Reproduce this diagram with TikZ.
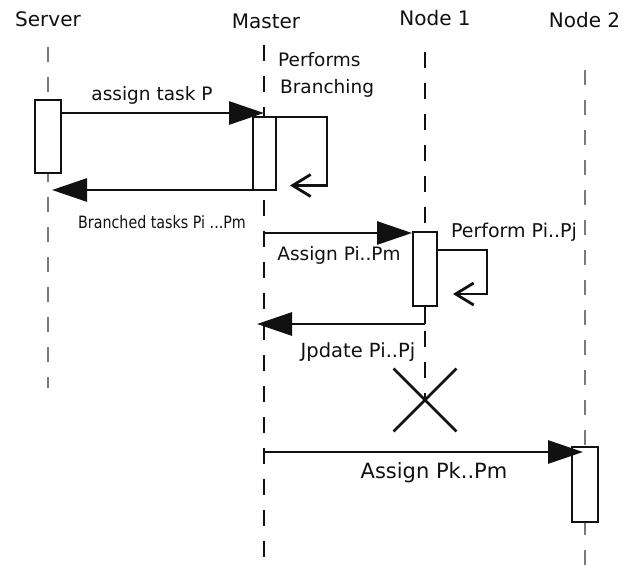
\documentclass[tikz,border=0pt]{standalone}
\usepackage{fontspec}
\setmainfont{DejaVu Sans}
\usetikzlibrary{arrows.meta,shapes.misc,calc}
\definecolor{ink}{HTML}{111111}
\definecolor{lifegray}{HTML}{7A7A7A}
\begin{document}
\begin{tikzpicture}[x=1pt,y=-1pt,
  title/.style={font=\fontsize{20}{24}\selectfont, text=ink, inner sep=0pt, anchor=base},
  lab/.style={font=\fontsize{18.5}{22}\selectfont, text=ink, inner sep=0pt, anchor=base},
  actbox/.style={draw=ink, fill=white, line width=2.8pt, inner sep=0pt, outer sep=0pt},
  msg/.style={draw=ink, line width=2.8pt, -{Triangle[length=35pt,width=23pt]}},
  selfmsg/.style={draw=ink, line width=2.8pt, line join=miter, -{Straight Barb[length=18pt,width=22pt]}},
  lifeg/.style={draw=lifegray, line width=2.2pt, dash pattern=on 15pt off 15pt},
  lifek/.style={draw=ink, line width=1.4pt, dash pattern=on 16pt off 15pt}]

% canvas
\fill[white] (0,0) rectangle (632,565);
\useasboundingbox (0,0) rectangle (632,565);

% participant titles
\node[title] (tserver) at (48,26)    {Server};
\node[title] (tmaster) at (266,28)   {Master};
\node[title] (tnode1)  at (435,25)   {Node 1};
\node[title] (tnode2)  at (584.5,27) {Node 2};

% lifeline heads
\coordinate (sl)  at (48,47);
\coordinate (ml)  at (264,45);
\coordinate (nl1) at (425,52);
\coordinate (nl2) at (585,70);

% destruction mark of Node 1
\node[cross out, draw=ink, line width=2.8pt, minimum size=60pt, inner sep=0pt] (n1end) at (425,400) {};

% lifelines
\draw[lifeg] (sl) -- (48,388);
\draw[lifek] (ml) -- (264,565);
\draw[lifek] (nl1) -- (n1end.center);
\draw[lifeg] (nl2) -- (585,565);

% activation boxes
\node[actbox, minimum width=26pt, minimum height=73pt] (sbox)  at (48,136.5)  {};
\node[actbox, minimum width=23pt, minimum height=73pt] (mbox)  at (264.5,153.5) {};
\node[actbox, minimum width=24pt, minimum height=74pt] (n1box) at (425,269)  {};
\node[actbox, minimum width=26pt, minimum height=75pt] (n2box) at (585,484.5) {};

% Server -> Master
\path ($(sbox.north east)+(0,13)$) coordinate (m1a);
\draw[msg] (m1a) -- (ml |- m1a);
\node[lab] (l1) at (152,100) {assign task P};

% Master branching (self call)
\draw[selfmsg] (mbox.north east) -- ++(51,0) |- ($(mbox.east)+(14,32)$);
\node[lab, anchor=base west] (l2a) at (278,66) {Performs};
\node[lab, anchor=base west] (l2b) at (280,93) {Branching};

% Master -> Server
\draw[msg] (mbox.south west) -- ($(sl |- mbox.south west)+(4,0)$);
\node[lab, font=\fontsize{17}{20}\selectfont, xscale=0.84] (l3) at (162,228) {Branched tasks Pi ...Pm};

% Master -> Node 1
\path ($(n1box.north west)+(-1,1)$) coordinate (m4b);
\draw[msg] (ml |- m4b) -- (m4b);
\node[lab] (l4) at (339,260) {Assign Pi..Pm};

% Node 1 self call
\draw[selfmsg] ($(n1box.east)+(0,-19)$) -- ++(50,0) |- ($(n1box.east)+(16,25)$);
\node[lab, font=\fontsize{19}{22}\selectfont] (l5) at (514,237) {Perform Pi..Pj};

% Node 1 -> Master
\path ($(n1box.south)+(0,18)$) coordinate (m6a);
\draw[ink, line width=1.5pt] (n1box.south) -- (m6a);
\draw[msg] (m6a) -- ($(ml |- m6a)+(-7,0)$);
\node[lab, font=\fontsize{19.5}{22}\selectfont] (l6) at (358,357) {Jpdate Pi..Pj};

% Master -> Node 2
\path ($(n2box.north west)+(0,5)$) coordinate (m7b);
\draw[msg] (ml |- m7b) -- ($(nl2 |- m7b)+(-2,0)$);
\node[lab, font=\fontsize{21}{24}\selectfont] (l7) at (434,478) {Assign Pk..Pm};
\end{tikzpicture}
\end{document}
